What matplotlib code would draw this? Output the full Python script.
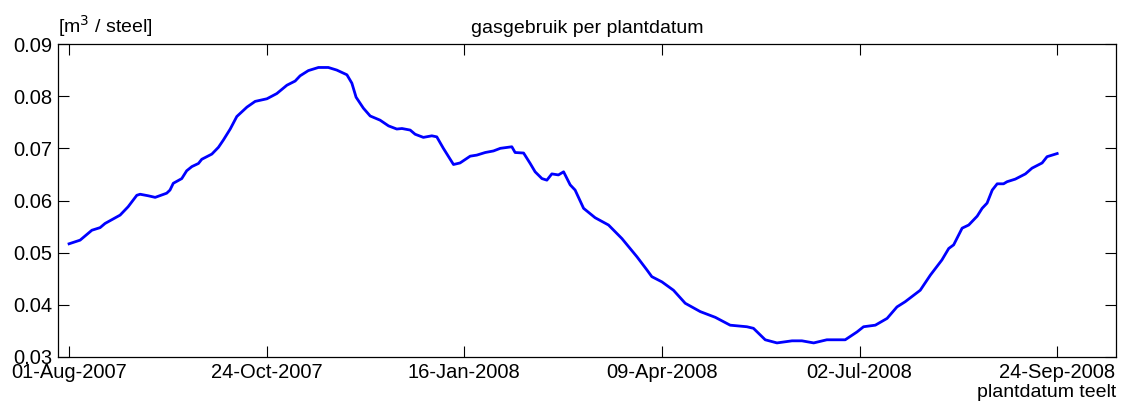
import matplotlib
matplotlib.use("Agg")
import matplotlib.pyplot as plt
import matplotlib.dates as mdates
import numpy as np
import datetime as dt

# --- DATA (days after 01-Aug-2007, gas use in m3 per stem) ---
start_date = dt.datetime(2007, 8, 1)
day_offset = [0, 4.7, 9.7, 13.2, 15.3, 21.7, 25.1, 28.8, 30.2, 33.7, 36.6, 41.5,
              42.9, 44.3, 47.9, 50.0, 52.2, 55.0, 56.4, 60.7, 63.5, 65.6, 68.5,
              71.3, 75.6, 79.1, 84.1, 88.3, 92.6, 96.1, 98.2, 101.7, 106.0, 110.2,
              113.8, 118.1, 120.2, 122.0, 125.1, 128.0, 132.2, 135.8, 139.3, 141.5,
              145.0, 147.1, 150.6, 154.2, 156.3, 159.1, 163.4, 166.2, 170.5, 173.3,
              176.9, 180.4, 183.3, 188.2, 189.6, 193.2, 196.0, 198.1, 201.0, 203.1,
              205.2, 208.0, 210.2, 213.0, 215.1, 218.7, 223.6, 229.3, 235.0, 241.4,
              245.6, 247.7, 252.0, 256.9, 261.9, 268.3, 274.7, 281.0, 288.1, 290.9,
              295.9, 300.9, 307.3, 311.5, 316.5, 322.1, 329.9, 334.9, 337.7, 342.7,
              347.7, 351.9, 355.4, 361.8, 366.1, 371.0, 373.9, 376.0, 379.6, 382.4,
              386.0, 388.1, 390.2, 392.4, 394.5, 397.2, 398.7, 402.2, 406.5, 409.3,
              413.6, 415.7, 420.0]
gas_use = [0.0517, 0.0524, 0.0543, 0.0548, 0.0556, 0.0572, 0.0588, 0.0610, 0.0612,
           0.0609, 0.0606, 0.0614, 0.0620, 0.0633, 0.0642, 0.0657, 0.0665, 0.0671,
           0.0679, 0.0689, 0.0702, 0.0716, 0.0737, 0.0761, 0.0779, 0.0790, 0.0795,
           0.0805, 0.0821, 0.0829, 0.0839, 0.0849, 0.0855, 0.0855, 0.0850, 0.0841,
           0.0825, 0.0798, 0.0777, 0.0762, 0.0754, 0.0743, 0.0737, 0.0738, 0.0735,
           0.0727, 0.0721, 0.0724, 0.0722, 0.0700, 0.0669, 0.0672, 0.0685, 0.0687,
           0.0692, 0.0695, 0.0700, 0.0703, 0.0692, 0.0691, 0.0671, 0.0655, 0.0642,
           0.0639, 0.0651, 0.0649, 0.0655, 0.0630, 0.0620, 0.0585, 0.0567, 0.0553,
           0.0527, 0.0492, 0.0467, 0.0454, 0.0444, 0.0428, 0.0403, 0.0387, 0.0376,
           0.0361, 0.0358, 0.0355, 0.0333, 0.0327, 0.0331, 0.0331, 0.0327, 0.0333,
           0.0333, 0.0348, 0.0358, 0.0361, 0.0374, 0.0396, 0.0406, 0.0428, 0.0457,
           0.0486, 0.0508, 0.0515, 0.0547, 0.0553, 0.0570, 0.0585, 0.0595, 0.0620,
           0.0632, 0.0632, 0.0636, 0.0641, 0.0651, 0.0662, 0.0672, 0.0684, 0.0690]
tick_offset = [0, 84, 168, 252, 336, 420]
y_ticks = [0.03, 0.04, 0.05, 0.06, 0.07, 0.08, 0.09]

plt.rcParams.update({
    'font.family': 'Liberation Sans',
    'font.size': 14.5,
})

dates = [start_date + dt.timedelta(days=d) for d in day_offset]
tick_dates = [start_date + dt.timedelta(days=d) for d in tick_offset]

fig = plt.figure(figsize=(11.25, 4.07), dpi=100)
ax = fig.add_axes([58 / 1125, 1 - 357 / 407, (1116 - 58) / 1125, (357 - 44) / 407])

ax.plot(dates, gas_use, color='#0000ff', linewidth=2.0)

ax.set_xlim(start_date - dt.timedelta(days=4.7), start_date + dt.timedelta(days=445))
ax.set_ylim(0.03, 0.09)
ax.set_xticks(tick_dates)
ax.xaxis.set_major_formatter(mdates.DateFormatter('%d-%b-%Y'))
ax.set_yticks(y_ticks)
ax.set_yticklabels([f"{v:.2f}" for v in y_ticks])

ax.tick_params(direction='in', length=8, width=0.8, top=True, right=True,
               color='black')
ax.tick_params(axis='x', pad=4)
ax.tick_params(axis='y', pad=4)
for s in ax.spines.values():
    s.set_linewidth(0.9)

ax.set_title('gasgebruik per plantdatum', fontsize=14, pad=8)
ax.text(0.0, 1.015, r'[m$^3$ / steel]', transform=ax.transAxes, ha='left', va='bottom',
        fontsize=14)
ax.text(1.0, -0.085, 'plantdatum teelt', transform=ax.transAxes, ha='right', va='top',
        fontsize=14)

fig.savefig('out.png', dpi=100)
